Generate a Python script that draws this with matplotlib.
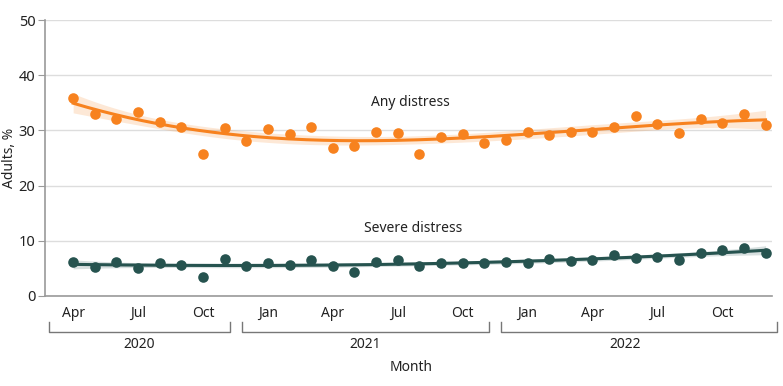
import numpy as np
import matplotlib
matplotlib.use("Agg")
import matplotlib.pyplot as plt
import matplotlib.transforms as mtransforms

plt.rcParams['font.family'] = ['Noto Sans', 'DejaVu Sans']

# monthly survey estimates, Apr 2020 - Dec 2022
months = ['Apr', 'May', 'Jun', 'Jul', 'Aug', 'Sep', 'Oct', 'Nov', 'Dec',
          'Jan', 'Feb', 'Mar', 'Apr', 'May', 'Jun', 'Jul', 'Aug', 'Sep', 'Oct', 'Nov', 'Dec',
          'Jan', 'Feb', 'Mar', 'Apr', 'May', 'Jun', 'Jul', 'Aug', 'Sep', 'Oct', 'Nov', 'Dec']
any_distress = [35.9, 33.0, 32.1, 33.3, 31.5, 30.6, 25.8, 30.5, 28.0,
                30.3, 29.4, 30.7, 26.8, 27.1, 29.8, 29.5, 25.7, 28.9, 29.3, 27.8, 28.2,
                29.8, 29.1, 29.8, 29.8, 30.7, 32.6, 31.1, 29.5, 32.1, 31.4, 33.0, 31.0]
severe_distress = [6.1, 5.3, 6.1, 5.1, 5.9, 5.7, 3.4, 6.7, 5.4,
                   5.9, 5.7, 6.5, 5.4, 4.4, 6.2, 6.6, 5.4, 5.9, 6.0, 5.9, 6.2,
                   6.0, 6.7, 6.4, 6.6, 7.5, 6.9, 7.1, 6.6, 7.8, 8.3, 8.7, 7.7]
tick_labels = ['Apr', 'Jul', 'Oct', 'Jan', 'Apr', 'Jul', 'Oct', 'Jan', 'Apr', 'Jul', 'Oct']
years = ['2020', '2021', '2022']

ORANGE = '#F7821F'
TEAL = '#26534F'
GRAY = '#9A9A9A'


def trend_fit(x, y, deg=3):
    # polynomial trend with 95% confidence band
    coef, cov = np.polyfit(x, y, deg, cov=True)
    xs = np.linspace(x.min(), x.max(), 200)
    X = np.vstack([xs ** p for p in range(deg, -1, -1)]).T
    fit = X @ coef
    se = np.sqrt(np.einsum('ij,jk,ik->i', X, cov, X))
    return xs, fit, 1.96 * se


x = np.arange(len(months))

fig = plt.figure(figsize=(7.83, 3.86), dpi=100)
ax = fig.add_axes([0.0575, 0.2332, 0.9285, 0.7148])

for vals, col in [(any_distress, ORANGE), (severe_distress, TEAL)]:
    vals = np.array(vals)
    xs, fit, ci = trend_fit(x, vals)
    ax.fill_between(xs, fit - ci, fit + ci, color=col, alpha=0.18, linewidth=0, zorder=2)
    ax.plot(xs, fit, color=col, linewidth=2.2, zorder=3)
    ax.scatter(x, vals, s=58, color=col, zorder=4, linewidths=0)

ax.text(15.6, 35.0, 'Any distress', ha='center', va='center', fontsize=10, color='#222222')
ax.text(15.7, 12.3, 'Severe distress', ha='center', va='center', fontsize=10, color='#222222')

ax.set_ylim(0, 50)
ax.set_xlim(-1.3, 32.3)
ax.set_yticks(range(0, 51, 10))
ax.set_xticks(x[::3])
ax.set_xticklabels(tick_labels)
ax.tick_params(axis='x', length=0, pad=7, labelsize=10, labelcolor='#222222')
ax.tick_params(axis='y', length=5, color=GRAY, labelsize=10.5, labelcolor='#222222', pad=2)
ax.grid(axis='y', color='#DDDDDD', linewidth=1)
ax.set_axisbelow(True)
for s in ['top', 'right']:
    ax.spines[s].set_visible(False)
ax.spines['left'].set_color(GRAY)
ax.spines['bottom'].set_color(GRAY)
ax.spines['left'].set_linewidth(1.2)
ax.spines['bottom'].set_linewidth(1.2)
ax.set_ylabel('Adults, %', fontsize=10, color='#222222')
ax.yaxis.set_label_coords(-0.038, 0.5)

# year brackets under the month labels
trans = mtransforms.blended_transform_factory(ax.transData, ax.transAxes)
spans = [(-1.11, 7.24), (7.8, 19.2), (19.76, 32.52)]
label_x = [3.07, 13.5, 25.5]
for (x0, x1), yr, lx in zip(spans, years, label_x):
    ax.plot([x0, x0, x1, x1], [-0.093, -0.1315, -0.1315, -0.093], color='#777777',
            linewidth=1, transform=trans, clip_on=False)
    ax.text(lx, -0.175, yr, ha='center', va='center', fontsize=10, color='#222222',
            transform=trans)
ax.text(15.6, -0.26, 'Month', ha='center', va='center', fontsize=10, color='#222222',
        transform=trans)

fig.savefig('out.png', dpi=100)
